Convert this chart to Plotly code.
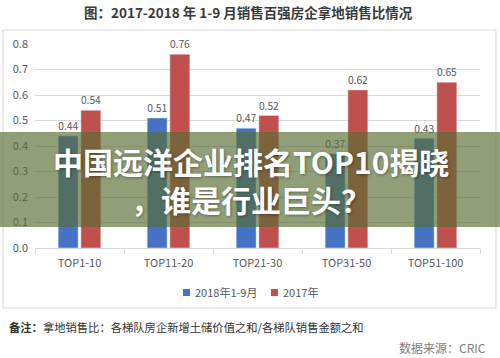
import plotly.graph_objects as go

categories = ["TOP1-10", "TOP11-20", "TOP21-30", "TOP31-50", "TOP51-100"]
series_2018 = [0.44, 0.51, 0.47, 0.37, 0.43]
series_2017 = [0.54, 0.76, 0.52, 0.62, 0.65]
name_2018 = "2018年1-9月"
name_2017 = "2017年"
color_2018 = "#4472C4"
color_2017 = "#C0504D"
title_text = "图：2017-2018 年 1-9 月销售百强房企拿地销售比情况"
note_text = "<b>备注：</b>拿地销售比：各梯队房企新增土储价值之和/各梯队销售金额之和"
source_text = "数据来源：CRIC"
banner_line1 = "中国远洋企业排名TOP10揭晓"
banner_line2 = "，谁是行业巨头？"

FONT = "Noto Sans CJK SC, Noto Sans, sans-serif"
W, H = 500, 358
ML, MR, MT, MB = 35, 20, 44, 110
pw = W - ML - MR
ph = H - MT - MB

def px_x(x):
    return (x - ML) / pw

def px_y(y):
    return (H - MB - y) / ph

fig = go.Figure()
fig.add_trace(go.Bar(
    x=categories, y=series_2018, name=name_2018,
    marker_color=color_2018,
    text=[f"{v:.2f}" for v in series_2018], textposition="outside",
    textfont=dict(size=11, color="#595959", family=FONT),
    cliponaxis=False,
))
fig.add_trace(go.Bar(
    x=categories, y=series_2017, name=name_2017,
    marker_color=color_2017,
    text=[f"{v:.2f}" for v in series_2017], textposition="outside",
    textfont=dict(size=11, color="#595959", family=FONT),
    cliponaxis=False,
))

fig.update_layout(
    width=W, height=H,
    margin=dict(l=ML, r=MR, t=MT, b=MB),
    paper_bgcolor="white", plot_bgcolor="white",
    barmode="group", bargap=0.49, bargroupgap=0.12,
    font=dict(family=FONT, color="#595959", size=11),
    showlegend=False,
)
fig.update_xaxes(
    showline=True, linecolor="#d9d9d9", linewidth=1,
    ticks="outside", tickson="boundaries", ticklen=5, tickcolor="#d9d9d9",
    tickfont=dict(size=11, color="#595959"),
    ticklabelstandoff=5,
    showgrid=False,
)
fig.update_yaxes(
    range=[0, 0.8], dtick=0.1, tickformat=".1f",
    showgrid=True, gridcolor="#d9d9d9", gridwidth=1,
    zeroline=False, showline=False,
    tickfont=dict(size=11, color="#595959"),
    ticklabelstandoff=6,
)

shapes = [
    dict(type="rect", xref="paper", yref="paper", layer="below",
         x0=px_x(3), x1=px_x(496), y0=px_y(308), y1=px_y(30),
         line=dict(color="#d9d9d9", width=1), fillcolor="rgba(0,0,0,0)"),
    # legend keys
    dict(type="rect", xref="paper", yref="paper", layer="above",
         x0=px_x(183), x1=px_x(190), y0=px_y(296), y1=px_y(289),
         line=dict(width=0), fillcolor=color_2018),
    dict(type="rect", xref="paper", yref="paper", layer="above",
         x0=px_x(271), x1=px_x(278), y0=px_y(296), y1=px_y(289),
         line=dict(width=0), fillcolor=color_2017),
    # banner overlay
    dict(type="rect", xref="paper", yref="paper", layer="above",
         x0=px_x(-2), x1=px_x(502), y0=px_y(227), y1=px_y(132),
         line=dict(width=0), fillcolor="rgba(88,110,52,0.66)"),
]
fig.update_layout(shapes=shapes)

annotations = [
    dict(text=f"<b>{title_text}</b>", xref="paper", yref="paper",
         x=px_x(248), y=px_y(12), xanchor="center", yanchor="middle",
         showarrow=False, font=dict(size=13.5, color="#3a3a3a", family=FONT)),
    dict(text=name_2018, xref="paper", yref="paper",
         x=px_x(193), y=px_y(292), xanchor="left", yanchor="middle",
         showarrow=False, font=dict(size=11, color="#595959", family=FONT)),
    dict(text=name_2017, xref="paper", yref="paper",
         x=px_x(281), y=px_y(292), xanchor="left", yanchor="middle",
         showarrow=False, font=dict(size=11, color="#595959", family=FONT)),
    dict(text=note_text, xref="paper", yref="paper",
         x=px_x(7), y=px_y(327), xanchor="left", yanchor="middle",
         showarrow=False, font=dict(size=11.3, color="#333333", family=FONT)),
    dict(text=source_text, xref="paper", yref="paper",
         x=px_x(488), y=px_y(347), xanchor="right", yanchor="middle",
         showarrow=False, font=dict(size=12, color="#7f7f7f", family=FONT)),
    dict(text=f"<b>{banner_line1}</b>", xref="paper", yref="paper",
         x=px_x(251), y=px_y(161), xanchor="center", yanchor="middle",
         showarrow=False,
         font=dict(size=30, color="white", family=FONT,
                   shadow="1px 1px 3px rgba(0,0,0,0.35)")),
    dict(text=f"<b>{banner_line2}</b>", xref="paper", yref="paper",
         x=px_x(251), y=px_y(199), xanchor="center", yanchor="middle",
         showarrow=False,
         font=dict(size=30, color="white", family=FONT,
                   shadow="1px 1px 3px rgba(0,0,0,0.35)")),
]
fig.update_layout(annotations=annotations)

fig.write_html("out.html", config={"displayModeBar": False},
               post_script="document.body.style.margin='0';")
